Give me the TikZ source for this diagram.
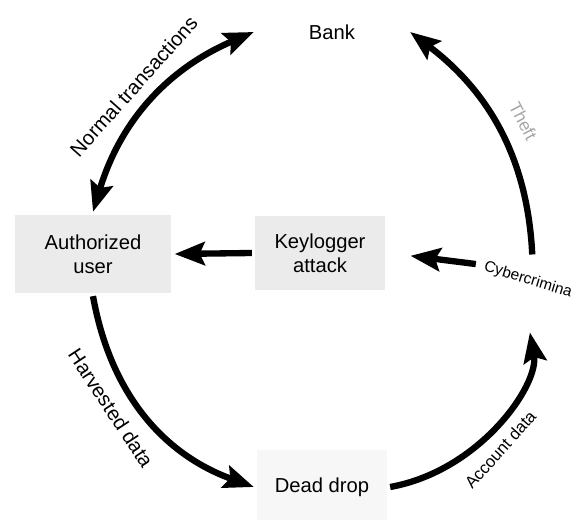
\documentclass[tikz,border=0pt]{standalone}
\usepackage{fontspec}
\setmainfont{Liberation Sans}
\usetikzlibrary{arrows.meta}

\begin{document}
\begin{tikzpicture}[x=0.02cm, y=0.02cm,
  >={Stealth[length=0.6cm, width=0.46cm, inset=0.1cm]},
  every path/.style={line width=3.6pt},
  txt/.style={align=center, font=\fontsize{11.5}{13.6}\selectfont},
  box/.style={txt, fill=black!8},
  small/.style={font=\fontsize{9.5}{11}\selectfont},
  faint/.style={font=\fontsize{10}{12}\selectfont, text=black!35}]
\useasboundingbox (0,0) rectangle (578,-520);
% the five places of the cycle
\node[txt, minimum width=3cm] (bank) at (332,-32) {Bank};
\node[box, minimum width=3.14cm, minimum height=1.56cm] (auth) at (93,-254) {Authorized\\user};
\node[box, minimum width=2.6cm, minimum height=1.5cm] (keylog) at (320,-253) {Keylogger\\attack};
\node[txt, font=\fontsize{8.8}{10}\selectfont, rotate=-17] (crim) at (528,-280) {Cybercrimina};
\node[txt, fill=black!3, minimum width=2.6cm, minimum height=1.5cm] (drop) at (322,-487) {Dead drop};
% connectors
\draw[<->] (auth.north) to[bend left=25] node[sloped, above=4pt, txt] {Normal transactions} (bank.west);
\draw[->] (keylog.west) -- (auth.east);
\draw[->, shorten >=0.45cm] (crim.west) -- (keylog.east);
\draw[->, shorten <=0.2cm] (crim.north) to[bend right=25] node[sloped, above=6pt, faint] {Theft} (bank.east);
\draw[->] (auth.south) to[bend right=30] node[pos=0.4, sloped, below=4pt, txt] {Harvested data} (drop.west);
\draw[->, shorten >=0.75cm] (drop.east) to[bend right=45] node[pos=0.42, sloped, below=4pt, small] {Account data} (crim.south);
\end{tikzpicture}
\end{document}
